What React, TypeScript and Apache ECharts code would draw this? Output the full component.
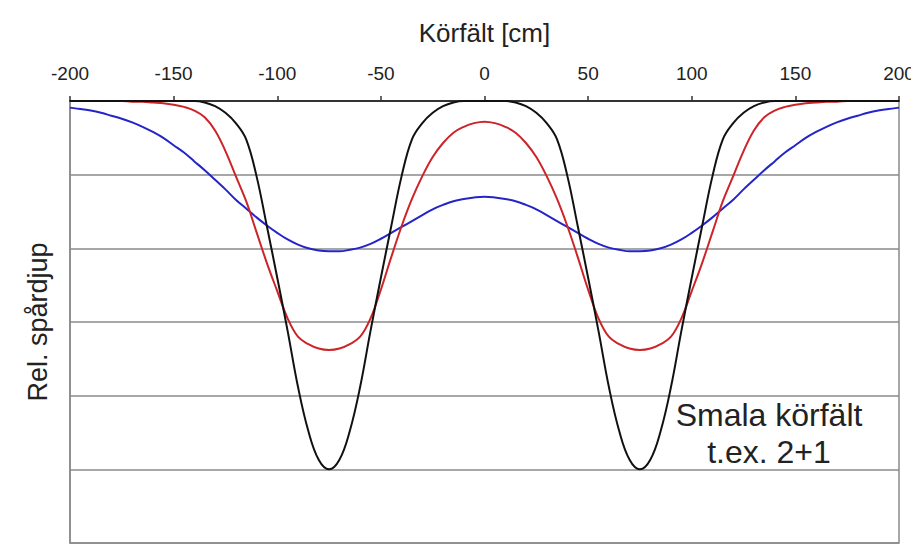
import React, { useEffect, useRef } from "react";
import * as echarts from "echarts";

const xValues = [
  -200, -195, -190, -185, -180, -175, -170, -165, -160, -155, -150, -145, -140, -135, -130, -125, -120, -115, -110, -105,
  -100, -95, -90, -85, -80, -75, -70, -65, -60, -55, -50, -45, -40, -35, -30, -25, -20, -15, -10, -5,
  0, 5, 10, 15, 20, 25, 30, 35, 40, 45, 50, 55, 60, 65, 70, 75, 80, 85, 90, 95,
  100, 105, 110, 115, 120, 125, 130, 135, 140, 145, 150, 155, 160, 165, 170, 175, 180, 185, 190, 195, 200,
];

const blackValues = [
  0, 0, 0, 0, 0, 0, 0, 0, 0, 0, 0, 0, 0, 0.02, 0.07, 0.16, 0.3, 0.52, 1.02, 1.7,
  2.4, 3.12, 3.88, 4.48, 4.87, 5.0, 4.87, 4.48, 3.88, 3.12, 2.4, 1.7, 1.02, 0.52, 0.3, 0.16, 0.07, 0.02, 0, 0,
  0, 0, 0, 0.02, 0.07, 0.16, 0.3, 0.52, 1.02, 1.7, 2.4, 3.12, 3.88, 4.48, 4.87, 5.0, 4.87, 4.48, 3.88, 3.12,
  2.4, 1.7, 1.02, 0.52, 0.3, 0.16, 0.07, 0.02, 0, 0, 0, 0, 0, 0, 0, 0, 0, 0, 0, 0, 0,
];

const redValues = [
  0, 0, 0, 0, 0, 0, 0.01, 0.01, 0.02, 0.03, 0.05, 0.08, 0.13, 0.22, 0.4, 0.68, 1.02, 1.36, 1.78, 2.2,
  2.58, 2.95, 3.2, 3.3, 3.36, 3.38, 3.36, 3.3, 3.2, 2.95, 2.56, 2.12, 1.7, 1.33, 1.02, 0.76, 0.57, 0.43, 0.35, 0.3,
  0.28, 0.3, 0.35, 0.43, 0.57, 0.76, 1.02, 1.33, 1.7, 2.12, 2.56, 2.95, 3.2, 3.3, 3.36, 3.38, 3.36, 3.3, 3.2, 2.95,
  2.58, 2.2, 1.78, 1.36, 1.02, 0.68, 0.4, 0.22, 0.13, 0.08, 0.05, 0.03, 0.02, 0.01, 0.01, 0, 0, 0, 0, 0, 0,
];

const blueValues = [
  0.09, 0.11, 0.13, 0.16, 0.2, 0.24, 0.29, 0.35, 0.42, 0.5, 0.6, 0.7, 0.82, 0.94, 1.07, 1.2, 1.34, 1.46, 1.58, 1.69,
  1.79, 1.88, 1.95, 2.0, 2.03, 2.04, 2.04, 2.02, 1.99, 1.94, 1.87, 1.79, 1.71, 1.63, 1.55, 1.47, 1.41, 1.36, 1.33, 1.31,
  1.3, 1.31, 1.33, 1.36, 1.41, 1.47, 1.55, 1.63, 1.71, 1.79, 1.87, 1.94, 1.99, 2.02, 2.04, 2.04, 2.03, 2.0, 1.95, 1.88,
  1.79, 1.69, 1.58, 1.46, 1.34, 1.2, 1.07, 0.94, 0.82, 0.7, 0.6, 0.5, 0.42, 0.35, 0.29, 0.24, 0.2, 0.16, 0.13, 0.11, 0.09,
];

const xTitle = "Körfält [cm]";
const yTitle = "Rel. spårdjup";
const noteLines = ["Smala körfält", "t.ex. 2+1"];

const FONT = "'Liberation Sans', Arial, sans-serif";

function pairs(vals: number[]) {
  return xValues.map((x, i) => [x, vals[i]]);
}

export default function App() {
  const ref = useRef<HTMLDivElement>(null);
  useEffect(() => {
    if (!ref.current) return;
    const chart = echarts.init(ref.current, undefined, { renderer: "svg" });
    const lineSeries = (name: string, vals: number[], color: string) => ({
      name,
      type: "line",
      data: pairs(vals),
      smooth: 0.4,
      showSymbol: false,
      symbol: "none",
      lineStyle: { color, width: 2 },
      z: 3,
    });
    chart.setOption({
      animation: false,
      backgroundColor: "#ffffff",
      textStyle: { fontFamily: FONT },
      grid: {
        left: 70,
        right: 12,
        top: 101,
        bottom: 11,
        show: true,
        borderColor: "#8a8a8a",
        borderWidth: 1.5,
        backgroundColor: "transparent",
        outerBoundsMode: "none",
        containLabel: false,
      },
      xAxis: {
        type: "value",
        position: "top",
        min: -200,
        max: 200,
        interval: 50,
        name: xTitle,
        nameLocation: "middle",
        nameGap: 55,
        nameTextStyle: { fontSize: 26, color: "#222", fontFamily: FONT },
        axisLine: { show: true, onZero: false, lineStyle: { color: "#333", width: 2 } },
        axisTick: { show: true, inside: false, length: 5, lineStyle: { color: "#333", width: 1.5 } },
        axisLabel: { fontSize: 19, color: "#222", margin: 18, fontFamily: FONT },
        splitLine: { show: false },
      },
      yAxis: {
        type: "value",
        inverse: true,
        min: 0,
        max: 6,
        interval: 1,
        name: yTitle,
        nameLocation: "middle",
        nameRotate: 90,
        nameGap: 19,
        nameTextStyle: { fontSize: 27, color: "#222", fontFamily: FONT },
        axisLine: { show: true, onZero: false, lineStyle: { color: "#8a8a8a", width: 1.5 } },
        axisTick: { show: false },
        axisLabel: { show: false },
        splitLine: { show: true, lineStyle: { color: "#8a8a8a", width: 1.5 } },
      },
      series: [
        lineSeries("blue", blueValues, "#2424c8"),
        lineSeries("red", redValues, "#cc2428"),
        lineSeries("black", blackValues, "#111111"),
      ],
      graphic: [
        {
          type: "text",
          x: 769,
          y: 396,
          z: 10,
          style: {
            text: noteLines.join("\n"),
            fontSize: 32,
            lineHeight: 37,
            fill: "#222",
            align: "center",
            fontFamily: FONT,
          },
        },
      ],
    });
    return () => chart.dispose();
  }, []);
  return (
    <div
      ref={ref}
      style={{ position: "fixed", left: 0, top: 0, width: 911, height: 554, background: "#fff" }}
    />
  );
}
